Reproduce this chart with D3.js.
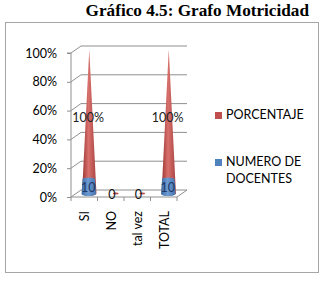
<!DOCTYPE html>
<html><head><meta charset="utf-8">
<script src="https://cdn.jsdelivr.net/npm/d3@7"></script>
<style>body{margin:0;background:#fff}svg{display:block}</style>
</head><body>
<script>
const categories = ["SI", "NO", "tal vez", "TOTAL"];
const porcentaje = [100, 0, 0, 100];
const docentes = [10, 0, 0, 10];
const porcentajeLabels = ["100%", "0", "0", "100%"];
const docentesLabels = ["10", "0", "0", "10"];
const yTicks = [0, 20, 40, 60, 80, 100];
const seriesNames = ["PORCENTAJE", "NUMERO DE DOCENTES"];

const W = 324, H = 287;
const svg = d3.select("body").append("svg").attr("width", W).attr("height", H);
const font = "Lato, 'Open Sans', sans-serif";
const red = "#C0504D", blue = "#4F81BD";

// title
svg.append("text").attr("x", 309).attr("y", 15.5).attr("text-anchor", "end")
  .attr("font-family", "'Liberation Serif', 'Times New Roman', serif").attr("font-weight", "bold")
  .attr("font-size", 17.2).text("Gráfico 4.5: Grafo Motricidad");

// chart border
svg.append("rect").attr("x", 5.5).attr("y", 22.5).attr("width", 313).attr("height", 250)
  .attr("fill", "none").attr("stroke", "#a6a6a6").attr("stroke-width", 1);

const dx = 10, dy = -7; // depth offset
const x = d3.scaleBand().domain(categories).range([71, 177]);
const y = d3.scaleLinear().domain([0, 100]).range([197, 53]);
const grid = "#8f8f8f";

// back wall gridlines + side wall diagonals
yTicks.forEach(t => {
  const yf = y(t);
  svg.append("line").attr("x1", x.range()[0] + dx).attr("x2", x.range()[1] + dx)
    .attr("y1", yf + dy).attr("y2", yf + dy).attr("stroke", grid).attr("stroke-width", 1);
  svg.append("line").attr("x1", x.range()[0]).attr("y1", yf).attr("x2", x.range()[0] + dx).attr("y2", yf + dy)
    .attr("stroke", grid);
});
// floor edges
svg.append("line").attr("x1", x.range()[1]).attr("y1", y(0)).attr("x2", x.range()[1] + dx).attr("y2", y(0) + dy).attr("stroke", grid);

// y axis
const yAxis = d3.axisLeft(y).tickValues(yTicks).tickFormat(d => d + "%").tickSize(4).tickPadding(10);
const ga = svg.append("g").attr("transform", `translate(${x.range()[0]},0)`).call(yAxis);
ga.select(".domain").attr("stroke", grid);
ga.selectAll(".tick line").attr("stroke", grid);
ga.selectAll("text").attr("font-family", font).attr("font-size", 12.5).attr("fill", "#000");
ga.selectAll(".domain").attr("d", `M-4,${y(100)}H0V${y(0)}`);

// x axis
const xAxis = d3.axisBottom(x).tickSize(4).tickFormat("");
const gx = svg.append("g").attr("transform", `translate(0,${y(0)})`).call(xAxis);
gx.select(".domain").attr("stroke", grid).attr("d", `M${x.range()[0]},0H${x.range()[1]}`);
gx.selectAll(".tick").remove();
[...categories.map(c => x(c)), x.range()[1]].forEach(px => {
  gx.append("line").attr("x1", px).attr("x2", px).attr("y1", 0).attr("y2", 4).attr("stroke", grid);
});
categories.forEach(c => {
  svg.append("text").attr("transform", `translate(${x(c) + x.bandwidth() / 2 + 5},211) rotate(-90)`)
    .attr("text-anchor", "end").attr("font-family", font).attr("font-size", 12.5).text(c);
});

// gradients
const defs = svg.append("defs");
function grad(id, dark, mid, light) {
  const g = defs.append("linearGradient").attr("id", id).attr("x1", "0").attr("x2", "1").attr("y1", "0").attr("y2", "0");
  g.append("stop").attr("offset", "0").attr("stop-color", dark);
  g.append("stop").attr("offset", "0.45").attr("stop-color", light);
  g.append("stop").attr("offset", "1").attr("stop-color", mid);
}
grad("gr", "#9b3532", "#a84340", "#d8706c");
grad("gb", "#3c6aa3", "#4473ad", "#6f9bd3");

const cx = c => x(c) + x.bandwidth() / 2 + dx / 2;
const ym = v => y(v) + dy / 2;
const rBase = 7.2;

// red cones (back series)
categories.forEach((c, i) => {
  const v = porcentaje[i], px = cx(c), yb = ym(0);
  if (v > 0) {
    svg.append("path").attr("d", `M${px - rBase},${yb}L${px},${ym(v)}L${px + rBase},${yb}A${rBase},2 0 0 1 ${px - rBase},${yb}Z`)
      .attr("fill", "url(#gr)");
  } else {
    svg.append("ellipse").attr("cx", px).attr("cy", yb).attr("rx", 3).attr("ry", 1).attr("fill", red);
  }
});

// blue series (front)
categories.forEach((c, i) => {
  const v = docentes[i], px = cx(c) - 0.5, yb = ym(0) + 0.5;
  if (v > 0) {
    const rt = rBase * (1 - v / 100) - 0.3;
    svg.append("path").attr("d", `M${px - rBase},${yb}L${px - rt},${ym(v)}A${rt},1.5 0 0 1 ${px + rt},${ym(v)}L${px + rBase},${yb}A${rBase},2 0 0 1 ${px - rBase},${yb}Z`)
      .attr("fill", "url(#gb)");
  }
});

// data labels
categories.forEach((c, i) => {
  const px = cx(c) - 1;
  if (porcentaje[i] > 0) {
    svg.append("text").attr("x", px).attr("y", 122).attr("text-anchor", "middle")
      .attr("font-family", font).attr("font-size", 12.5).attr("fill", "#222").text(porcentajeLabels[i]);
    svg.append("text").attr("x", px).attr("y", 192).attr("text-anchor", "middle")
      .attr("font-family", font).attr("font-size", 12.5).attr("fill", "#1f3864").text(docentesLabels[i]);
  } else {
    svg.append("text").attr("x", px - 3).attr("y", 199).attr("text-anchor", "middle")
      .attr("font-family", font).attr("font-size", 12.5).attr("fill", "#111").text(docentesLabels[i]);
  }
});

// legend
const leg = [{n: "PORCENTAJE", c: red, y: 112, lines: ["PORCENTAJE"]},
             {n: "NUMERO DE DOCENTES", c: blue, y: 159, lines: ["NUMERO DE", "DOCENTES"]}];
leg.forEach(l => {
  svg.append("rect").attr("x", 215).attr("y", l.y).attr("width", 7).attr("height", 7).attr("fill", l.c);
  l.lines.forEach((t, j) => {
    svg.append("text").attr("x", 226).attr("y", l.y + 7 + j * 17).attr("font-family", font)
      .attr("font-size", 12.5).attr("fill", "#000").text(t);
  });
});
</script>
</body></html>
